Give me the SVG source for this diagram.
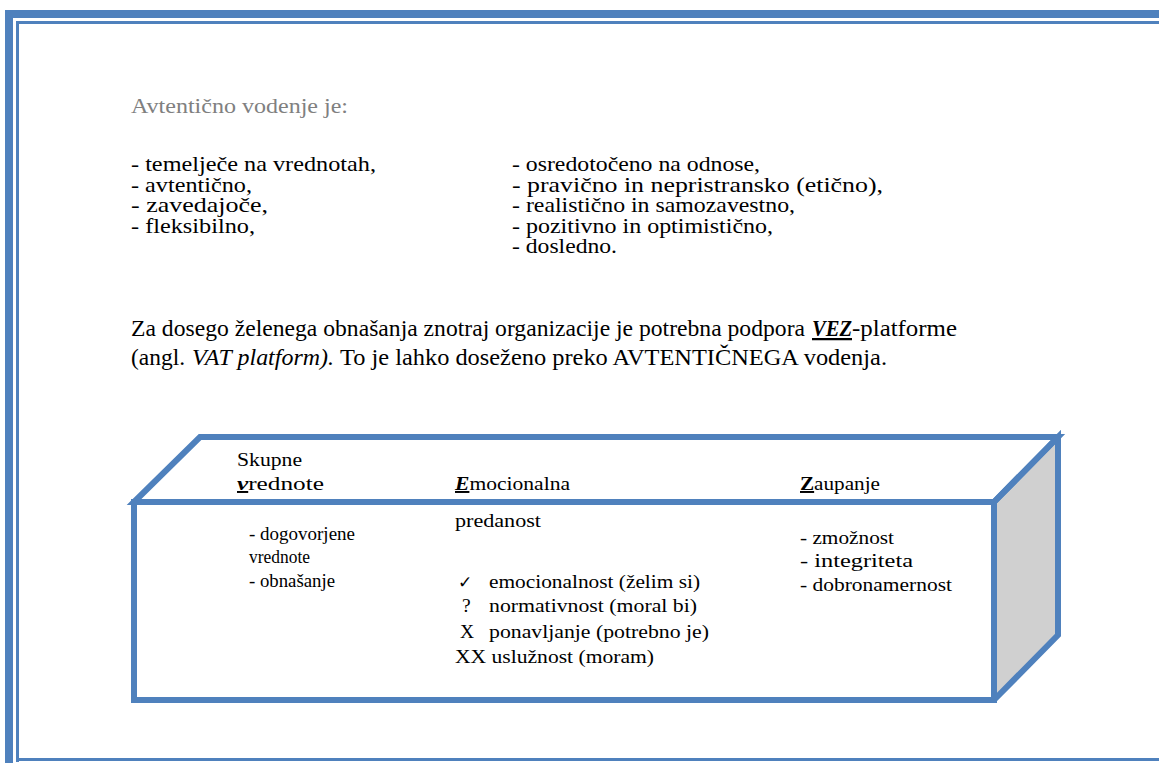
<svg xmlns="http://www.w3.org/2000/svg" width="1159" height="763" viewBox="0 0 1159 763">
<style>
.t{font-family:"Liberation Serif","Times New Roman",serif;fill:#000;}
.bi{font-weight:bold;font-style:italic;text-decoration:underline;}
.bu{font-weight:bold;text-decoration:underline;}
.edge{fill:none;stroke:#4f81bd;stroke-width:6;stroke-linejoin:miter;}
</style>
<rect width="1159" height="763" fill="#fff"/>
<g id="page-border" fill="#4f81bd">
<rect x="5" y="10" width="1154" height="8"/>
<rect x="5" y="10" width="8" height="753"/>
<rect x="16" y="21" width="1143" height="3"/>
<rect x="16" y="21" width="3" height="741"/>
<rect x="16" y="758" width="1143" height="3"/>
</g>
<g id="heading" class="t" font-size="21.5">
<text x="131" y="113" fill="#808080" textLength="217" lengthAdjust="spacingAndGlyphs">Avtentično vodenje je:</text>
</g>
<g id="list-left" class="t" font-size="21">
<text x="131" y="171" textLength="245" lengthAdjust="spacingAndGlyphs">- temelječe na vrednotah,</text>
<text x="131" y="191.5" textLength="121" lengthAdjust="spacingAndGlyphs">- avtentično,</text>
<text x="131" y="212" textLength="137" lengthAdjust="spacingAndGlyphs">- zavedajoče,</text>
<text x="131" y="232.5" textLength="124" lengthAdjust="spacingAndGlyphs">- fleksibilno,</text>
</g>
<g id="list-right" class="t" font-size="21">
<text x="512" y="171" textLength="248" lengthAdjust="spacingAndGlyphs">- osredotočeno na odnose,</text>
<text x="512" y="191.5" textLength="371" lengthAdjust="spacingAndGlyphs">- pravično in nepristransko (etično),</text>
<text x="512" y="212" textLength="283" lengthAdjust="spacingAndGlyphs">- realistično in samozavestno,</text>
<text x="512" y="232.5" textLength="261" lengthAdjust="spacingAndGlyphs">- pozitivno in optimistično,</text>
<text x="512" y="253" textLength="105" lengthAdjust="spacingAndGlyphs">- dosledno.</text>
</g>
<g id="paragraph" class="t" font-size="22.5">
<text x="131" y="336" textLength="674" lengthAdjust="spacingAndGlyphs">Za dosego želenega obnašanja znotraj organizacije je potrebna podpora</text>
<text x="812" y="336" textLength="40" lengthAdjust="spacingAndGlyphs" class="bi">VEZ</text>
<text x="852" y="336" textLength="105" lengthAdjust="spacingAndGlyphs">-platforme</text>
<text x="131" y="365" textLength="54" lengthAdjust="spacingAndGlyphs">(angl.</text>
<text x="192" y="365" textLength="142" lengthAdjust="spacingAndGlyphs" font-style="italic">VAT platform).</text>
<text x="340" y="365" textLength="547" lengthAdjust="spacingAndGlyphs">To je lahko doseženo preko AVTENTIČNEGA vodenja.</text>
</g>
<g id="box">
<polygon points="994,502 1058,437 1058,635 994,700" fill="#d0d0d0"/>
<path class="edge" d="M134,502 L200,437 L1058,437 L994,502 Z"/>
<path class="edge" d="M994,502 L1058,437 L1058,635 L994,700"/>
<rect class="edge" x="134" y="502" width="860" height="198"/>
</g>
<g id="col-values" class="t" font-size="19.5">
<text x="237" y="466" textLength="65" lengthAdjust="spacingAndGlyphs">Skupne</text>
<text x="237" y="490" textLength="87" lengthAdjust="spacingAndGlyphs"><tspan class="bi">v</tspan>rednote</text>
<text x="249" y="540" textLength="106" lengthAdjust="spacingAndGlyphs">- dogovorjene</text>
<text x="249" y="563" textLength="61" lengthAdjust="spacingAndGlyphs">vrednote</text>
<text x="249" y="587" textLength="86" lengthAdjust="spacingAndGlyphs">- obnašanje</text>
</g>
<g id="col-emotional" class="t" font-size="19.5">
<text x="455" y="490" textLength="115" lengthAdjust="spacingAndGlyphs"><tspan class="bi">E</tspan>mocionalna</text>
<text x="455" y="527" textLength="86" lengthAdjust="spacingAndGlyphs">predanost</text>
<text x="458" y="588" font-family="DejaVu Sans, sans-serif" font-size="17">✓</text>
<text x="489" y="588" textLength="211" lengthAdjust="spacingAndGlyphs">emocionalnost (želim si)</text>
<text x="462" y="612">?</text>
<text x="489" y="612" textLength="208" lengthAdjust="spacingAndGlyphs">normativnost (moral bi)</text>
<text x="460" y="638">X</text>
<text x="489" y="638" textLength="220" lengthAdjust="spacingAndGlyphs">ponavljanje (potrebno je)</text>
<text x="455" y="663" textLength="199" lengthAdjust="spacingAndGlyphs">XX uslužnost (moram)</text>
</g>
<g id="col-trust" class="t" font-size="19.5">
<text x="800" y="490" textLength="80" lengthAdjust="spacingAndGlyphs"><tspan class="bu">Z</tspan>aupanje</text>
<text x="800" y="544" textLength="94" lengthAdjust="spacingAndGlyphs">- zmožnost</text>
<text x="800" y="567" textLength="113" lengthAdjust="spacingAndGlyphs">- integriteta</text>
<text x="800" y="591" textLength="152" lengthAdjust="spacingAndGlyphs">- dobronamernost</text>
</g>
</svg>
